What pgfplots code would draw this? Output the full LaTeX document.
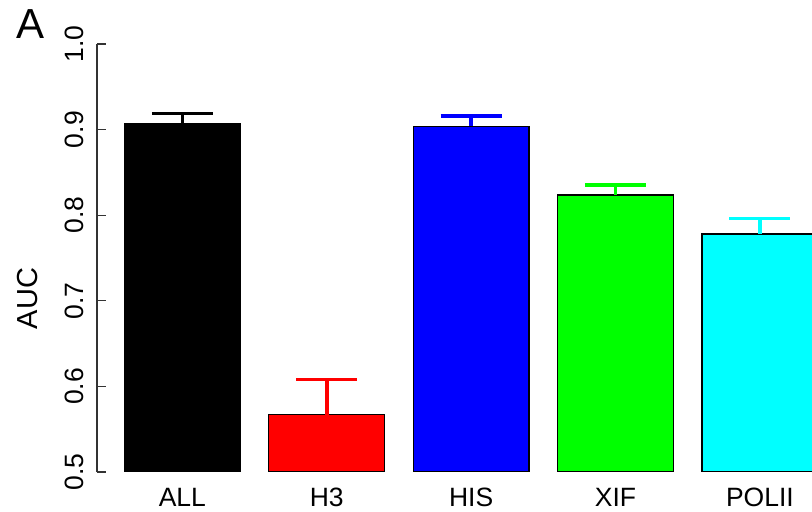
\documentclass[border=0pt]{standalone}
\usepackage{pgfplots}
\pgfplotsset{compat=1.18}
\usepackage{fontspec}
\setmainfont{Liberation Sans}
\definecolor{rcyan}{RGB}{0,255,255}
\definecolor{rgreen}{RGB}{0,255,0}
\begin{document}
\fontsize{26.5bp}{30bp}\selectfont
\begin{tikzpicture}
\useasboundingbox (0,0) rectangle (812bp,512bp);
\begin{axis}[
  at={(97bp,40bp)}, anchor=south west,
  scale only axis, width=715bp, height=428bp,
  xmin=-0.591, xmax=4.361, ymin=0.5, ymax=1.0,
  axis y line*=left, axis x line*=bottom,
  x axis line style={draw=none},
  y axis line style={-, line width=1.3bp, black!80},
  xtick={0,1,2,3,4},
  xticklabels={ALL,H3,HIS,XIF,POLII},
  xtick style={draw=none},
  xticklabel style={inner sep=0pt, anchor=north},
  xticklabel shift=7bp,
  ytick={0.5,0.6,0.7,0.8,0.9,1.0},
  ytick style={line width=1.3bp, black!80},
  tick align=inside, major tick length=9bp,
  yticklabel style={rotate=90, anchor=south, inner sep=0pt,
    /pgf/number format/fixed, /pgf/number format/fixed zerofill,
    /pgf/number format/precision=1},
  yticklabel shift=13bp,
  /pgf/number format/assume math mode=true,
  ylabel={AUC},
  ylabel style={at={(axis description cs:-0.0965,0.405)}, anchor=center, rotate=0,
    font=\fontsize{29bp}{32bp}\selectfont},
  ybar, bar width=0.803, bar shift=0pt,
  every axis plot/.append style={draw=black, line width=1.2bp},
  error bars/y dir=plus, error bars/y explicit,
  clip mode=individual,
]
\addplot[fill=black, error bars/error bar style={black, line width=3.6bp},
  error bars/error mark options={rotate=90, mark size=30.5bp, line width=3.6bp, black}]
  coordinates {(0,0.907) +- (0,0.012)};
\addplot[fill=red, error bars/error bar style={red, line width=3.6bp},
  error bars/error mark options={rotate=90, mark size=30.5bp, line width=3.6bp, red}]
  coordinates {(1,0.567) +- (0,0.041)};
\addplot[fill=blue, error bars/error bar style={blue, line width=3.6bp},
  error bars/error mark options={rotate=90, mark size=30.5bp, line width=3.6bp, blue}]
  coordinates {(2,0.904) +- (0,0.012)};
\addplot[fill=rgreen, error bars/error bar style={rgreen, line width=3.6bp},
  error bars/error mark options={rotate=90, mark size=30.5bp, line width=3.6bp, rgreen}]
  coordinates {(3,0.8235) +- (0,0.012)};
\addplot[fill=rcyan, error bars/error bar style={rcyan, line width=3.6bp},
  error bars/error mark options={rotate=90, mark size=30.5bp, line width=3.6bp, rcyan}]
  coordinates {(4,0.778) +- (0,0.018)};
\node[font=\fontsize{42bp}{44bp}\selectfont, inner sep=0pt] at (axis description cs:-0.0923,1.047) {A};
\end{axis}
\end{tikzpicture}
\end{document}
